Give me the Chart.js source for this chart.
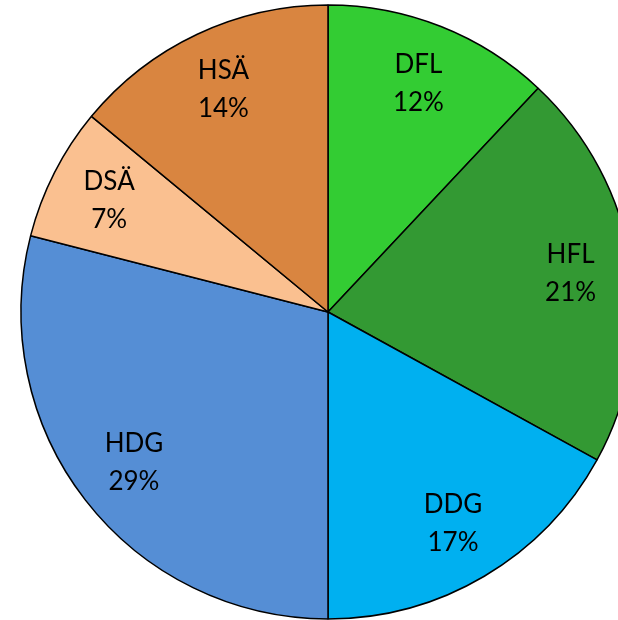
<!DOCTYPE html>
<html lang="de">
  <head>
    <meta charset="UTF-8" />
    <script src="https://cdn.jsdelivr.net/npm/chart.js"></script>
    <title>Verteilung</title>
    <style>
      html,
      body {
        margin: 0;
        padding: 0;
        overflow: hidden;
        background: #fff;
      }
      .chart-container {
        position: absolute;
        left: 0;
        top: 0;
        width: 656px;
        height: 624px;
      }
    </style>
  </head>
  <body>
    <div class="chart-container">
      <canvas id="pieChart"></canvas>
    </div>

    <script>
      const labels = ["DFL", "HFL", "DDG", "HDG", "DSÄ", "HSÄ"];
      const values = [12, 21, 17, 29, 7, 14];
      const colors = [
        "#33cc33",
        "#339933",
        "#00b0f0",
        "#558ed5",
        "#fac090",
        "#d98540",
      ];

      // draws "name / percent" inside each slice
      const sliceLabels = {
        id: "sliceLabels",
        afterDatasetsDraw(chart) {
          const ctx = chart.ctx;
          const arcs = chart.getDatasetMeta(0).data;
          const total = values.reduce((a, b) => a + b, 0);
          ctx.save();
          ctx.fillStyle = "#000";
          ctx.font = "26px Lato";
          ctx.textAlign = "center";
          ctx.textBaseline = "middle";
          arcs.forEach((arc, i) => {
            const p = arc.getProps(
              ["x", "y", "startAngle", "endAngle", "outerRadius"],
              true
            );
            const mid = (p.startAngle + p.endAngle) / 2;
            const r = p.outerRadius * 0.8;
            const x = p.x + Math.cos(mid) * r;
            const y = p.y + Math.sin(mid) * r;
            const pct = Math.round((values[i] / total) * 100) + "%";
            ctx.fillText(labels[i], x, y - 19);
            ctx.fillText(pct, x, y + 19);
          });
          ctx.restore();
        },
      };

      new Chart(document.getElementById("pieChart"), {
        type: "pie",
        data: {
          labels: labels,
          datasets: [
            {
              data: values,
              backgroundColor: colors,
              borderColor: "#000",
              borderWidth: 1.5,
            },
          ],
        },
        options: {
          responsive: true,
          maintainAspectRatio: false,
          animation: false,
          radius: 307,
          layout: { padding: 0 },
          plugins: {
            legend: { display: false },
            tooltip: { enabled: false },
          },
        },
        plugins: [sliceLabels],
      });
    </script>
  </body>
</html>
